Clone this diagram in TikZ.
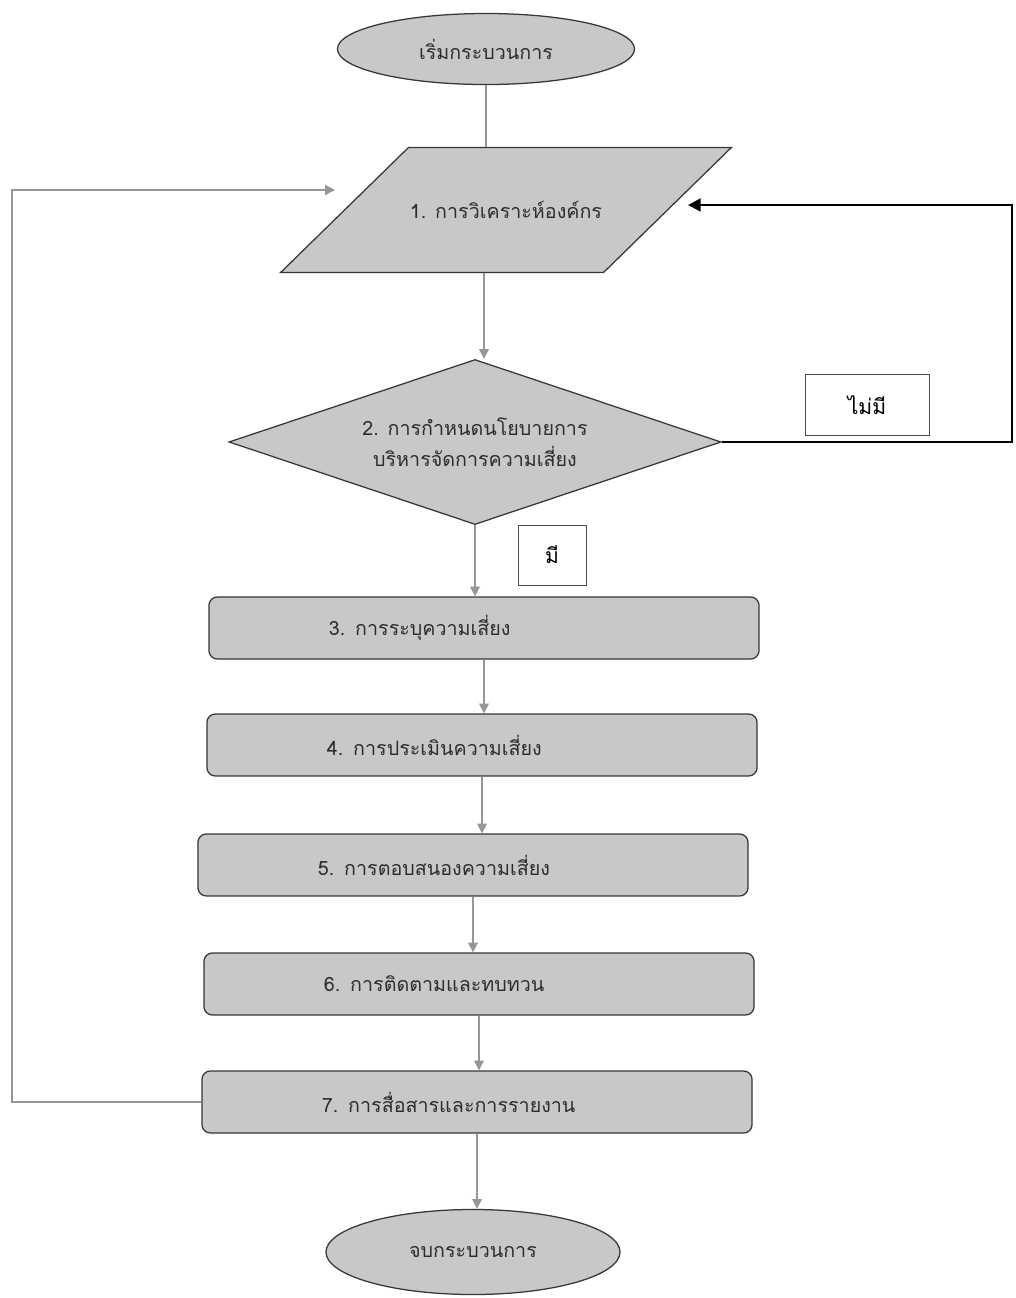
\documentclass[tikz,border=0pt]{standalone}
\usepackage{fontspec}
\newfontfamily\thaifont[Script=Thai]{Loma}
\usepackage{tikz}
\usetikzlibrary{arrows.meta, calc, shapes.geometric}

\definecolor{boxfill}{RGB}{200,200,200}
\definecolor{boxline}{RGB}{55,55,55}
\definecolor{flowgray}{RGB}{150,150,150}
\definecolor{txtgray}{RGB}{45,45,45}

\tikzset{
  base/.style={draw=boxline, fill=boxfill, line width=0.9pt, text=txtgray,
    font=\thaifont\fontsize{14}{22}\selectfont, inner sep=0pt, align=center},
  terminal/.style={base, ellipse},
  stepbox/.style={base, rounded corners=6pt, text width=7.75cm, align=left,
    inner xsep=3cm, minimum height=1.55cm},
  decide/.style={base, diamond, aspect=3, minimum width=12.3cm, minimum height=4.125cm},
  inputbox/.style={base, trapezium, trapezium left angle=42, trapezium right angle=138,
    trapezium stretches=true, inner xsep=0pt, inner ysep=1.2cm,
    minimum width=11.3cm, minimum height=3.125cm},
  answer/.style={draw=black!70, line width=0.5pt, fill=white,
    font=\thaifont\fontsize{15}{20}\selectfont, inner sep=0pt},
  flow/.style={draw=flowgray, line width=1pt, -{Triangle[width=7pt,length=7pt]}},
  noflow/.style={draw=black, line width=2pt, -{Triangle[width=9pt,length=9pt]}}
}

\begin{document}
\begin{tikzpicture}[x=0.025cm, y=-0.025cm]
\useasboundingbox (0,0) rectangle (1015,1298);

% shapes
\node[terminal, minimum width=7.425cm, minimum height=1.775cm] (start) at (486,49) {เริ่มกระบวนการ};
\node[inputbox] (anl) at (506,210) {1. การวิเคราะห์องค์กร};
\node[decide] (pol) at (475,442) {2. การกำหนดนโยบายการ\\บริหารจัดการความเสี่ยง};
\node[stepbox] (ident) at (484,628) {3. การระบุความเสี่ยง};
\node[stepbox] (assess) at (482,745) {4. การประเมินความเสี่ยง};
\node[stepbox] (resp) at (473,865) {5. การตอบสนองความเสี่ยง};
\node[stepbox] (mon) at (479,984) {6. การติดตามและทบทวน};
\node[stepbox] (comm) at (477,1102) {7. การสื่อสารและการรายงาน};
\node[terminal, minimum width=7.35cm, minimum height=2.125cm] (fin) at (473,1252) {จบกระบวนการ};

% answers
\node[answer, minimum width=3.1cm, minimum height=1.525cm] (nolbl) at (867,405) {ไม่มี};
\node[answer, minimum width=1.7cm, minimum height=1.5cm] (yeslbl) at (552,555) {มี};

% main flow
\draw[flowgray, line width=1pt] (start.south) -- (start.south |- anl.north);
\draw[flow] (anl.south -| 484,0) -- (pol.north -| 484,0);
\draw[flow] (pol.south) -- (pol.south |- ident.north);
\draw[flow] (ident.south) -- (ident.south |- assess.north);
\draw[flow] (assess.south) -- (assess.south |- resp.north);
\draw[flow] (resp.south) -- (resp.south |- mon.north);
\draw[flow] (mon.south) -- (mon.south |- comm.north);
\draw[flow] (comm.south) -- (comm.south |- fin.north);

% loops
\coordinate (loopc) at (1012,445);
\coordinate (loopend) at (688,205);
\draw[noflow] (pol.east) -- (pol.east -| loopc) |- (loopend);
\coordinate (fbc) at (12,190);
\coordinate (fbend) at (335,190);
\draw[flow] (comm.west) -| (fbc) -- (fbend);
\end{tikzpicture}
\end{document}
